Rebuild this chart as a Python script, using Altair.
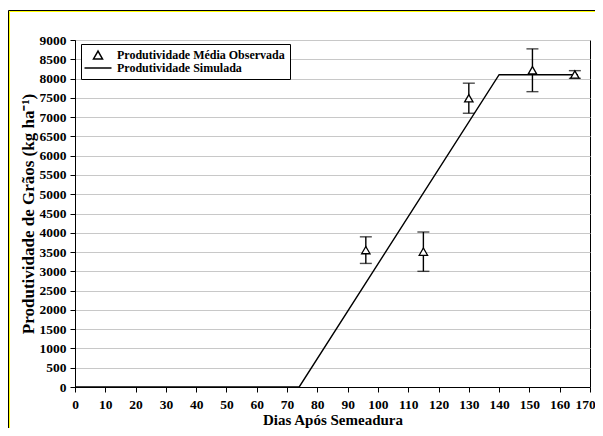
import altair as alt
import pandas as pd

# ---- data ----
obs_days = [96, 115, 130, 151, 165]
obs_mean = [3550, 3510, 7490, 8215, 8105]
obs_sd = [345, 510, 390, 555, 100]

sim_days = [0, 74, 140, 166]
sim_yield = [0, 0, 8100, 8100]

x_ticks = list(range(0, 171, 10))
y_ticks = list(range(0, 9001, 500))
series = ["Produtividade Média Observada", "Produtividade Simulada"]

FONT = "Liberation Serif"

obs = pd.DataFrame({
    "dia": obs_days,
    "prod": obs_mean,
    "lo": [m - s for m, s in zip(obs_mean, obs_sd)],
    "hi": [m + s for m, s in zip(obs_mean, obs_sd)],
    "serie": [series[0]] * len(obs_days),
})
sim = pd.DataFrame({"dia": sim_days, "prod": sim_yield})

xscale = alt.Scale(domain=[0, 170], nice=False, zero=False)
yscale = alt.Scale(domain=[0, 9000], nice=False)

xaxis = alt.Axis(
    title="Dias Após Semeadura", values=x_ticks, grid=False, format="d",
    labelFont=FONT, labelFontSize=13.5, labelFontWeight="bold", labelColor="black",
    titleFont=FONT, titleFontSize=15, titleFontWeight="bold", titleColor="black",
    tickColor="black", tickSize=5, domainColor="black", labelPadding=5, titlePadding=2,
    labelFlush=False,
    labelOffset=alt.condition("datum.value == 170", alt.value(-5), alt.value(0)),
)
yaxis = alt.Axis(
    title="Produtividade de Grãos (kg ha⁻¹)", values=y_ticks, grid=True, format="d",
    gridColor="#c8c8c8", gridWidth=1,
    labelFont=FONT, labelFontSize=13.5, labelFontWeight="bold", labelColor="black",
    titleFont=FONT, titleFontSize=17, titleFontWeight="bold", titleColor="black",
    tickColor="black", tickSize=5, domainColor="black", labelPadding=4, titlePadding=2,
)

X = alt.X("dia:Q", scale=xscale, axis=xaxis)

frame_df = pd.DataFrame({"k": [0]})
frame_left_black = alt.Chart(frame_df).mark_rule(color="black", strokeWidth=1).encode(
    x=alt.value(-66.5), y=alt.value(-29.5), y2=alt.value(420))
frame_left_yellow = alt.Chart(frame_df).mark_rule(color="#ffff00", strokeWidth=1).encode(
    x=alt.value(-65.5), y=alt.value(-28.5), y2=alt.value(420))
frame_top_black = alt.Chart(frame_df).mark_rule(color="black", strokeWidth=1).encode(
    x=alt.value(-66.5), x2=alt.value(600), y=alt.value(-29.5))
frame_top_yellow = alt.Chart(frame_df).mark_rule(color="#ffff00", strokeWidth=1).encode(
    x=alt.value(-65.5), x2=alt.value(600), y=alt.value(-28.5))

line = alt.Chart(sim).mark_line(color="black", strokeWidth=1.4).encode(
    x=X, y=alt.Y("prod:Q", scale=yscale, axis=yaxis))

err = alt.Chart(obs).mark_errorbar(
    ticks=alt.MarkConfig(size=12), color="black", thickness=1.4
).encode(
    x=X, y=alt.Y("lo:Q", scale=yscale, axis=yaxis), y2="hi:Q")

points = alt.Chart(obs).mark_point(
    filled=False, color="black", strokeWidth=1.3, size=70, opacity=1
).encode(
    x=X,
    y=alt.Y("prod:Q", scale=yscale, axis=yaxis),
    fill=alt.value("white"),
    shape=alt.Shape(
        "serie:N",
        scale=alt.Scale(domain=series, range=["triangle-up", "M-3,0H3"]),
        legend=alt.Legend(
            title=None, orient="none", legendX=6, legendY=4, direction="vertical",
            fillColor="white", strokeColor="black", padding=5, cornerRadius=0,
            symbolSize=81, symbolOffset=6, labelOffset=13,
            labelFont=FONT, labelFontSize=12, labelFontWeight="bold",
            labelColor="black", labelLimit=400, rowPadding=0,
        ),
    ),
)

chart = alt.layer(
    frame_left_black, frame_left_yellow, frame_top_black, frame_top_yellow,
    line, err, points,
).properties(
    width=515, height=347,
    autosize=alt.AutoSizeParams(type="none"),
    padding={"left": 67, "top": 32, "right": 5, "bottom": 41},
    background="white",
).configure_view(stroke="black", strokeWidth=1)

chart.save("out.html", embed_options={"renderer": "svg", "actions": False})
